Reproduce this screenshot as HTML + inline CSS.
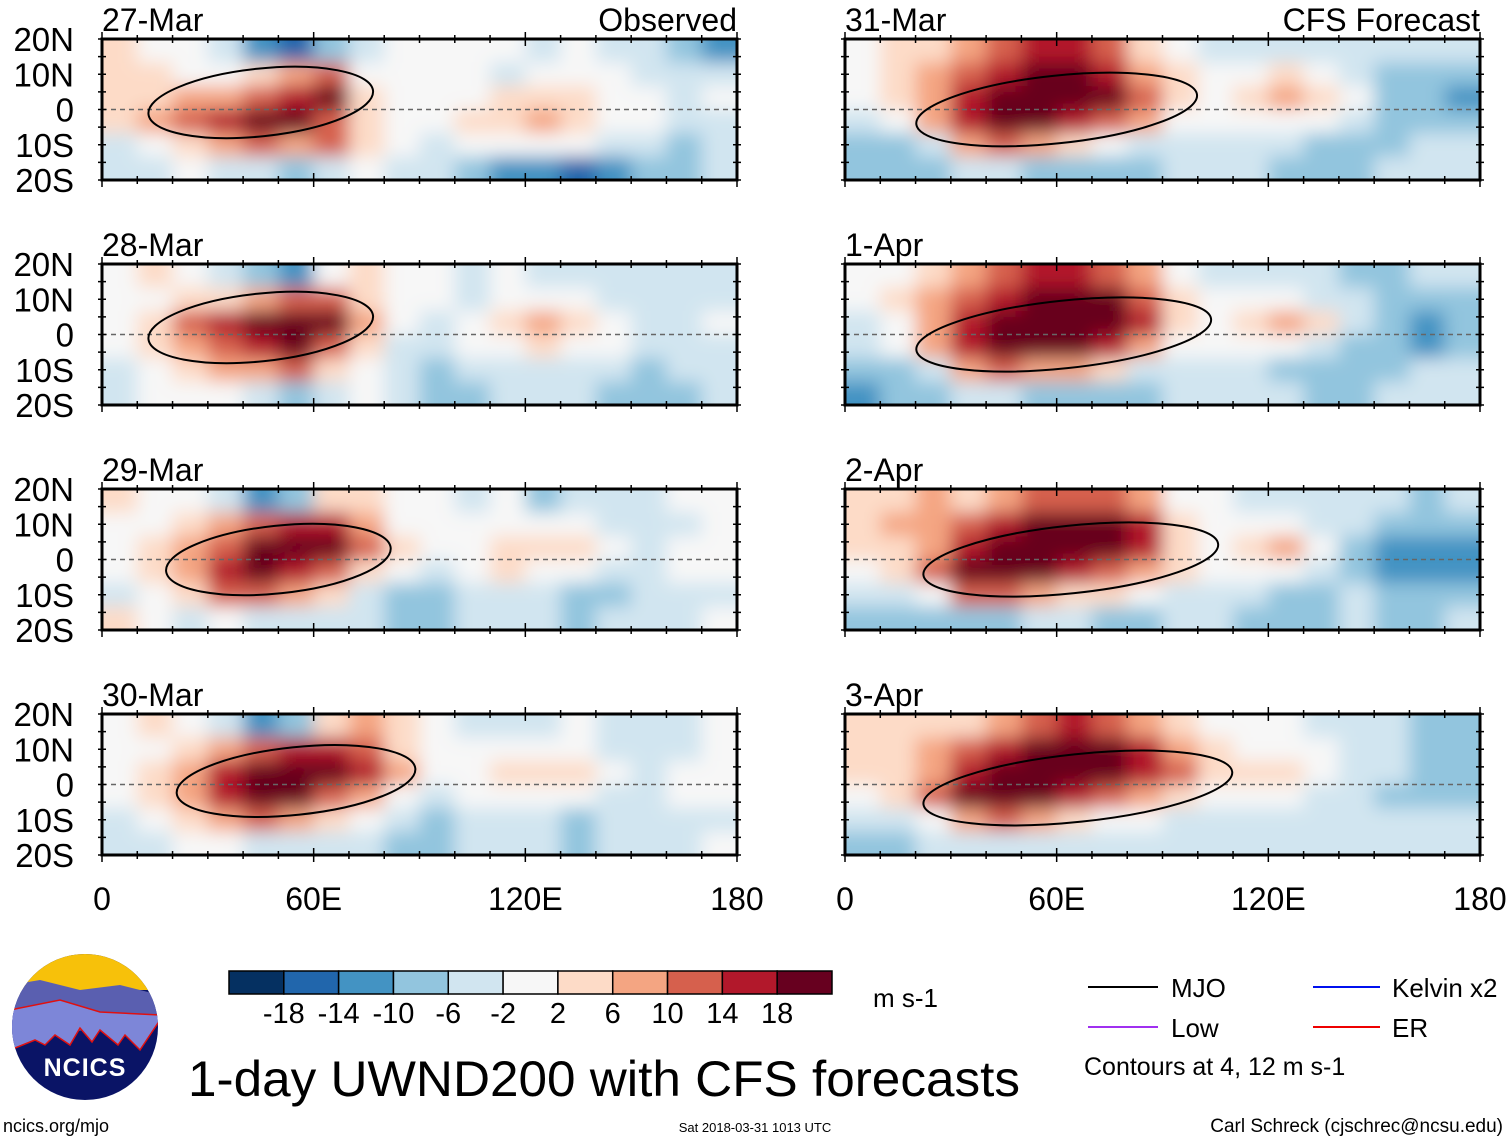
<!DOCTYPE html>
<html><head><meta charset="utf-8"><style>
html,body{margin:0;padding:0;background:#fff;}
svg text{font-family:"Liberation Sans",sans-serif;fill:#000;}
</style></head><body>
<svg id="chart" width="1510" height="1142" viewBox="0 0 1510 1142" xmlns="http://www.w3.org/2000/svg">
<defs>
<filter id="blur" x="-5%" y="-20%" width="110%" height="140%"><feGaussianBlur stdDeviation="9"/></filter>
</defs>
<g id="panels"></g>
<g id="colorbar"></g>
<g>
<clipPath id="logoclip"><circle cx="85" cy="1027" r="73"/></clipPath>
<g clip-path="url(#logoclip)">
<rect x="10" y="950" width="150" height="160" fill="#0a1466"/>
<rect x="10" y="950" width="150" height="40" fill="#f7c10a"/>
<path d="M10 985 L40 980 L80 990 L120 985 L160 995 L160 1020 L10 1040Z" fill="#5a5fb0"/>
<path d="M10 1010 L60 1000 L100 1012 L160 1015 L160 1020 L140 1050 L125 1035 L118 1045 L100 1030 L92 1042 L80 1028 L70 1045 L55 1035 L45 1045 L35 1040 L10 1050Z" fill="#7d86d8" stroke="#e01010" stroke-width="1.5"/>
</g>
<text x="85" y="1076" font-size="25" font-weight="bold" text-anchor="middle" style="fill:#fff" letter-spacing="1">NCICS</text>
</g>
<text x="3" y="1132" font-size="18">ncics.org/mjo</text>
<text x="755" y="1132" font-size="13" text-anchor="middle">Sat 2018-03-31 1013 UTC</text>
<text x="1503" y="1132" font-size="19" text-anchor="end">Carl Schreck (cjschrec@ncsu.edu)</text>
<text x="188" y="1096" font-size="50" textLength="832" lengthAdjust="spacingAndGlyphs">1-day UWND200 with CFS forecasts</text>
<text x="873" y="1007" font-size="26">m s-1</text>
<g>
<line x1="1088" y1="987" x2="1158" y2="987" stroke="#000" stroke-width="2"/>
<text x="1171" y="997" font-size="26">MJO</text>
<line x1="1313" y1="987" x2="1380" y2="987" stroke="#0010ee" stroke-width="2"/>
<text x="1392" y="997" font-size="26">Kelvin x2</text>
<line x1="1088" y1="1027" x2="1158" y2="1027" stroke="#a030f0" stroke-width="2"/>
<text x="1171" y="1037" font-size="26">Low</text>
<line x1="1313" y1="1027" x2="1380" y2="1027" stroke="#ee0000" stroke-width="2"/>
<text x="1392" y="1037" font-size="26">ER</text>
<text x="1084" y="1075" font-size="25">Contours at 4, 12 m s-1</text>
</g>
</svg>
<script>
const dates = ["27-Mar","28-Mar","29-Mar","30-Mar","31-Mar","1-Apr","2-Apr","3-Apr"];
const latTicks = ["20N","10N","0","10S","20S"];
const lonTicks = ["0","60E","120E","180"];
const lonTickVals = [0,60,120,180];
const levels = [-18,-14,-10,-6,-2,2,6,10,14,18];
const colors = ["#053061","#2166ac","#4393c3","#92c5de","#d1e5f0","#f7f7f7","#fddbc7","#f4a582","#d6604d","#b2182b","#67001f"];
const mjoLon = [45,45,50,55,60,62,64,66];
const mjoLat = [2,2,0,1,0,0,0,-1];
const mjoHalfWidth = [32,32,32,34,40,42,42,44];
const u1 = [[2,0,-2,-6,-12,-18,-10,-4,0,0,-2,-2,-4,-2,-4,-6,-10,-14],[2,2,0,-2,4,8,10,0,-2,0,-2,-4,-2,0,-2,-4,-6,-6],[4,4,6,8,10,16,20,4,0,-2,0,2,4,2,-2,-2,-4,-2],[4,6,10,14,20,18,12,2,0,-2,2,4,6,2,0,-2,-4,-4],[-4,-2,2,8,10,8,10,4,-2,-4,-2,-2,0,-2,-4,-6,-8,-6],[-6,-4,-2,-4,-6,-8,-4,-2,-4,-6,-10,-12,-14,-16,-12,-10,-8,-6]];
const u2 = [[0,2,-2,-4,-10,-12,0,2,0,-2,-4,-2,-4,-6,-6,-4,-6,-6],[-2,0,2,4,8,10,12,2,-2,-2,-4,-2,0,-2,-4,-6,-4,-4],[0,4,10,14,18,20,18,6,-2,-4,-2,4,6,2,-2,-4,-4,-2],[-2,2,8,12,16,18,12,2,-4,-4,-2,0,2,0,-2,-4,-4,-4],[-4,-2,2,6,8,10,4,-2,-6,-8,-6,-4,-4,-4,-6,-8,-6,-6],[-6,-2,0,-2,-4,-8,-4,-2,-4,-10,-8,-6,-4,-6,-8,-10,-8,-6]];
const u3 = [[2,0,-2,-6,-12,-10,2,4,0,-2,-4,-2,-8,-4,-4,-6,-2,-2],[-2,0,2,6,10,14,14,6,0,-2,-2,0,-2,-2,-4,-6,-4,-2],[0,2,6,12,18,20,20,10,2,-2,0,4,2,4,-2,-4,-2,-2],[-2,2,8,14,18,16,10,2,-2,-4,-2,2,0,-2,-4,-4,-2,-2],[-4,-2,2,10,12,8,2,-4,-8,-10,-6,-4,-6,-10,-8,-6,-4,-4],[2,-2,-4,-2,-4,-6,-4,-6,-10,-8,-6,-4,-6,-8,-6,-4,-4,-2]];
const u4 = [[0,2,-2,-6,-14,-8,4,6,2,-2,-4,-4,-4,-2,-4,-6,-4,-2],[-2,0,2,6,10,14,16,10,4,0,-2,-2,-2,-2,-4,-6,-4,-2],[0,2,6,14,18,20,20,14,6,-2,0,2,4,2,-2,-4,-2,-2],[-2,2,8,16,20,18,12,6,-2,-4,-2,0,0,-2,-4,-4,-2,-2],[-6,-2,2,8,10,6,2,-2,-6,-8,-6,-4,-6,-8,-6,-6,-4,-4],[-4,-4,-2,-2,-4,-6,-4,-6,-8,-8,-6,-4,-6,-8,-6,-4,-4,-2]];
const u5 = [[-2,2,4,6,10,14,14,10,4,-2,-4,-4,-4,-4,-6,-6,-6,-4],[0,2,6,10,16,18,18,14,8,2,0,0,2,-2,-4,-8,-10,-8],[-2,2,8,14,18,22,22,18,12,4,0,2,6,4,-2,-8,-10,-12],[-4,0,6,14,20,20,16,10,6,0,-2,0,0,-2,-6,-8,-10,-8],[-8,-8,-4,6,10,8,4,0,-4,-6,-6,-4,-6,-8,-10,-8,-6,-6],[-10,-10,-8,-6,-6,-8,-8,-8,-8,-6,-6,-6,-8,-8,-8,-6,-6,-4]];
const u6 = [[-2,0,2,6,10,14,16,12,6,-2,-4,-4,-4,-6,-8,-8,-6,-4],[-2,2,6,10,16,18,20,18,12,2,0,-2,0,-4,-6,-10,-10,-8],[-4,0,6,14,20,20,22,20,14,4,-2,2,6,2,-4,-10,-12,-10],[-6,-2,6,16,20,20,18,14,8,0,-2,0,0,-4,-8,-10,-12,-8],[-10,-8,-4,6,10,8,6,2,-4,-6,-6,-6,-8,-10,-8,-8,-6,-6],[-12,-10,-8,-6,-6,-8,-8,-8,-8,-6,-6,-6,-6,-8,-8,-6,-6,-4]];
const u7 = [[2,4,6,4,8,12,12,10,6,0,-2,-4,-4,-4,-4,-6,-8,-6],[4,6,6,10,16,18,18,18,14,4,0,-2,0,-4,-6,-8,-10,-10],[2,4,8,16,20,22,22,20,14,4,-2,2,6,-2,-8,-12,-14,-14],[-2,2,10,20,22,20,16,12,8,2,-2,-2,-2,-4,-8,-12,-14,-12],[-6,-4,0,10,12,8,4,2,-2,-6,-6,-6,-8,-8,-6,-10,-10,-8],[-8,-8,-8,-10,-8,-6,-6,-8,-8,-6,-6,-10,-10,-8,-6,-8,-8,-6]];
const u8 = [[2,4,2,4,8,12,14,12,8,2,-2,-2,-2,-4,-6,-6,-8,-8],[4,4,6,10,16,18,20,20,16,8,2,0,0,-2,-4,-6,-8,-10],[2,4,8,16,20,22,22,20,16,10,4,4,2,-2,-4,-6,-10,-10],[-2,2,10,18,22,20,14,10,6,2,0,0,-2,-4,-6,-8,-8,-8],[-6,-4,-2,8,10,6,2,0,-2,-4,-4,-4,-6,-6,-6,-6,-6,-4],[-8,-8,-6,-4,-4,-4,-4,-6,-6,-4,-4,-4,-4,-6,-6,-4,-4,-4]];
const grids = [u1,u2,u3,u4,u5,u6,u7,u8];

const NS = "http://www.w3.org/2000/svg";
function mk(tag, attrs, parent){const e=document.createElementNS(NS,tag);for(const k in attrs)e.setAttribute(k,attrs[k]);parent.appendChild(e);return e;}
function colorFor(v){let i=0;while(i<levels.length && v>=levels[i])i++;return colors[i];}
const colX=[102,845], rowY=[39,264,489,714], PW=635, PH=141;
const panelsG=document.getElementById('panels');
function xScale(px,lon){return px+lon/180*PW;}
function yScale(py,lat){return py+(20-lat)/40*PH;}

for(let p=0;p<8;p++){
  const px=colX[p<4?0:1], py=rowY[p%4];
  const g=mk('g',{},panelsG);
  
  
  const cid='clip'+p;
  const cp=mk('clipPath',{id:cid},g); mk('rect',{x:px,y:py,width:PW,height:PH},cp);
  const inner=mk('g',{'clip-path':'url(#'+cid+')'},g);
  mk('rect',{x:px,y:py,width:PW,height:PH,fill:'#f7f7f7'},inner);
  const cells=mk('g',{filter:'url(#blur)'},inner);
  const grid=grids[p], nr=grid.length, nc=grid[0].length;
  for(let r=0;r<nr;r++)for(let c=0;c<nc;c++){
    const lon0=c*180/nc, lon1=(c+1)*180/nc, lat0=20-r*40/nr, lat1=20-(r+1)*40/nr;
    const x0=xScale(px,lon0)-(c==0?20:0), x1=xScale(px,lon1)+(c==nc-1?20:0);
    const y0=yScale(py,lat0)-(r==0?20:0), y1=yScale(py,lat1)+(r==nr-1?20:0);
    const cell=mk('rect',{x:x0,y:y0,width:x1-x0+0.5,height:y1-y0+0.5,fill:colorFor(grid[r][c])},cells);
    
    
  }
  mk('line',{x1:px,y1:yScale(py,0),x2:px+PW,y2:yScale(py,0),stroke:'#666','stroke-width':1.5,'stroke-dasharray':'5,4'},inner);
  const cx=xScale(px,mjoLon[p]), cy=yScale(py,mjoLat[p]);
  const mjo=mk('ellipse',{cx:cx,cy:cy,rx:mjoHalfWidth[p]*PW/180,ry:PH*0.24,fill:'none',stroke:'#000','stroke-width':2,transform:'rotate(-6 '+cx+' '+cy+')'},inner);
  
  
  mk('rect',{x:px,y:py,width:PW,height:PH,fill:'none',stroke:'#000','stroke-width':3},g);
  for(let lon=0;lon<=180;lon+=10){const x=xScale(px,lon);const L=lon%60==0?7:4;
    mk('line',{x1:x,y1:py-L,x2:x,y2:py+L,stroke:'#000','stroke-width':1.5},g);
    mk('line',{x1:x,y1:py+PH-L,x2:x,y2:py+PH+L,stroke:'#000','stroke-width':1.5},g);}
  for(let lat=-20;lat<=20;lat+=5){const y=yScale(py,lat);
    mk('line',{x1:px-4,y1:y,x2:px+4,y2:y,stroke:'#000','stroke-width':1.5},g);
    mk('line',{x1:px+PW-4,y1:y,x2:px+PW+4,y2:y,stroke:'#000','stroke-width':1.5},g);}
  const t=mk('text',{x:px,y:py-8,'font-size':32},g); t.textContent=dates[p];
  
  
  if(p<4){
    latTicks.forEach((lab,i)=>{const tt=mk('text',{x:74,y:py+i*PH/4+12,'font-size':33,'text-anchor':'end'},g);tt.textContent=lab;
      
      });
  }
}
const ob=mk('text',{x:737,y:31,'font-size':32,'text-anchor':'end'},panelsG); ob.textContent='Observed';


const cf=mk('text',{x:1480,y:31,'font-size':32,'text-anchor':'end'},panelsG); cf.textContent='CFS Forecast';


colX.forEach(px=>{lonTicks.forEach((lab,i)=>{const tt=mk('text',{x:xScale(px,lonTickVals[i]),y:910,'font-size':32,'text-anchor':'middle'},panelsG);tt.textContent=lab;
  
  });});

const cb=document.getElementById('colorbar');
const cbX=229, cbW=603/colors.length;
colors.forEach((c,i)=>{const r=mk('rect',{x:cbX+i*cbW,y:971,width:cbW,height:23,fill:c,stroke:'#000','stroke-width':1.5},cb);
  
  });
levels.forEach((lv,i)=>{const t=mk('text',{x:cbX+(i+1)*cbW,y:1023,'font-size':29,'text-anchor':'middle'},cb);t.textContent=lv;
  
  });
</script>
</body></html>
